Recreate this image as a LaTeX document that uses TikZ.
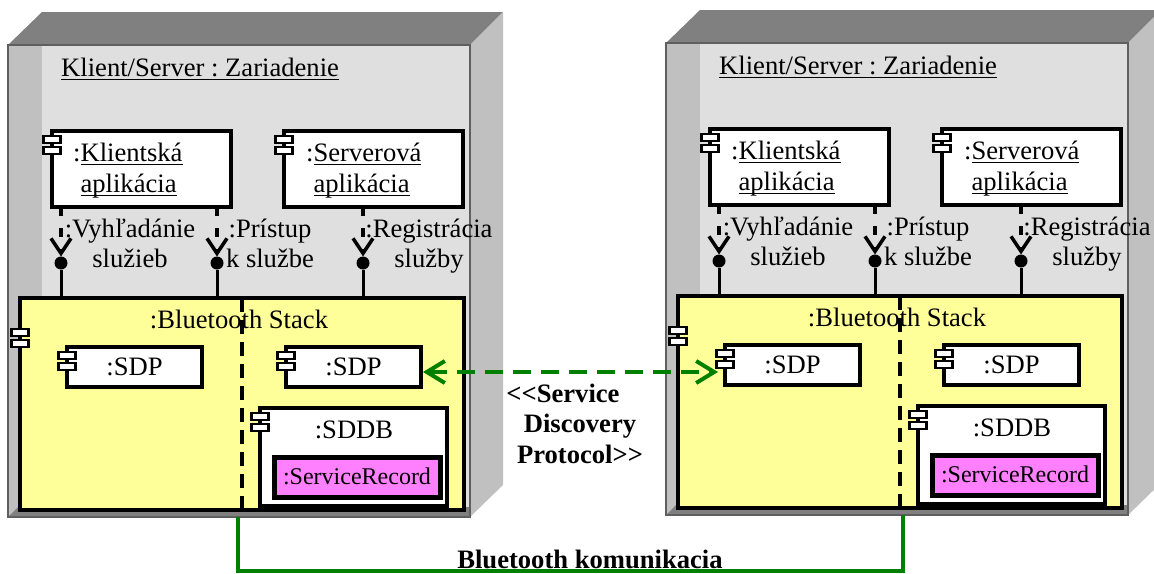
\documentclass[tikz,border=0pt]{standalone}
\usepackage{fontspec}
\setmainfont{Liberation Serif}
\frenchspacing
\newsavebox{\myulbox}
\newcommand{\myul}[1]{\sbox{\myulbox}{#1}\rlap{\rule[-4.2pt]{\wd\myulbox}{1.6pt}}\usebox{\myulbox}}
\usetikzlibrary{arrows.meta}
\definecolor{devtop}{HTML}{808080}
\definecolor{devside}{HTML}{C0C0C0}
\definecolor{devfront}{HTML}{DFDFDF}
\definecolor{devborder}{HTML}{5F5F5F}
\definecolor{stackfill}{HTML}{FFFF99}
\definecolor{srfill}{HTML}{FF80FF}
\definecolor{linkgreen}{HTML}{008000}
\tikzset{
  every node/.style={font=\fontsize{26.6}{31}\selectfont, inner sep=0pt},
  devbox/.style={draw=devborder, line width=2.5pt, outer sep=0pt},
  comp/.style={draw=black, fill=white, line width=3.5pt, outer sep=0pt},
  stackbox/.style={draw=black, fill=stackfill, line width=4pt, outer sep=0pt},
  srbox/.style={draw=black, fill=srfill, line width=5pt, outer sep=0pt},
  iconrect/.style={draw=black, fill=white, line width=2.2pt},
  cicon/.pic={\draw[iconrect] (-8.5,1) rectangle (8.5,8) (-8.5,12) rectangle (8.5,19);},
  ballnode/.style={circle, fill=black, minimum size=13pt, outer sep=0pt},
  depline/.style={line width=3.5pt, dash pattern=on 9pt off 12pt, -{Straight Barb[length=15pt,width=20pt]}},
  assemline/.style={line width=3pt},
  divider/.style={line width=3.5pt, dash pattern=on 14pt off 8pt},
  iflabel/.style={align=center, anchor=base, font=\fontsize{26.6}{30}\selectfont},
  sdplink/.style={draw=linkgreen, line width=4pt, dash pattern=on 18pt off 10pt,
     {Straight Barb[length=18pt,width=22pt]}-{Straight Barb[length=18pt,width=22pt]}},
  btlink/.style={draw=linkgreen, line width=3.5pt},
  boldlabel/.style={font=\fontsize{26.6}{30.5}\selectfont\bfseries}
}
\newcommand\drawdevice[2]{%
\begin{scope}[shift={(#2)}]
  % 3D node faces
  \fill[devtop] (8,45) -- (42,12) -- (503,12) -- (470,45) -- cycle;
  \fill[devside] (470,45) -- (503,12) -- (503,485) -- (470,517) -- cycle;
  \fill[devfront] (8,45) rectangle (470,517);
  \fill[devside] (8,45) rectangle (42,517);
  \fill[devtop] (8,517) -- (18,507) -- (470,507) -- (470,517) -- cycle;
  \node[devbox, minimum width=462, minimum height=472] (#1-dev) at (239,281) {};
  \node[anchor=base west] (#1-title) at (61,76) {\myul{Klient/Server : Zariadenie}};
  % applications
  \node[comp, minimum width=179, minimum height=76] (#1-kl) at (141.5,169) {};
  \pic at ([yshift=-4pt]#1-kl.north west) {cicon};
  \node[anchor=base west, align=left] (#1-kltext) at (73,192) {:\myul{Klientská}\\\phantom{:}\myul{aplikácia}};
  \node[comp, minimum width=179, minimum height=76] (#1-sv) at (373.5,169) {};
  \pic at ([yshift=-4pt]#1-sv.north west) {cicon};
  \node[anchor=base west, align=left] (#1-svtext) at (306,192) {:\myul{Serverová}\\\phantom{:}\myul{aplikácia}};
  % bluetooth stack
  \node[stackbox, minimum width=444, minimum height=212] (#1-stack) at (242,404) {};
  \pic at ([yshift=-30pt]#1-stack.north west) {cicon};
  \node[anchor=base] (#1-stacktitle) at (239,328) {:Bluetooth Stack};
  \coordinate (#1-divtop) at (242,298);
  \coordinate (#1-divbot) at (242,510);
  \draw[divider] (#1-divtop) -- (#1-divbot);
  \node[comp, minimum width=135, minimum height=40] (#1-sdp1) at (134.5,367) {:SDP};
  \pic at ([yshift=-4pt]#1-sdp1.north west) {cicon};
  \node[comp, minimum width=135, minimum height=40] (#1-sdp2) at (353.5,367) {:SDP};
  \pic at ([yshift=-4pt]#1-sdp2.north west) {cicon};
  \node[comp, minimum width=187, minimum height=98] (#1-sddb) at (353.5,457) {};
  \pic at ([yshift=-4pt]#1-sddb.north west) {cicon};
  \node[anchor=base] (#1-sddbtext) at (354,438) {:SDDB};
  \node[srbox, minimum width=166, minimum height=40] (#1-sr) at (357,477) {};
  \node[anchor=base, font=\fontsize{24}{28}\selectfont] (#1-srtext) at (357,484) {:ServiceRecord};
  % interfaces
  \node[ballnode] (#1-b1) at (61,263) {};
  \node[ballnode] (#1-b2) at (217,263) {};
  \node[ballnode] (#1-b3) at (363,263) {};
  \draw[depline] (#1-kl.south -| #1-b1) -- (#1-b1.north);
  \draw[depline] (#1-kl.south -| #1-b2) -- (#1-b2.north);
  \draw[depline] (#1-sv.south -| #1-b3) -- (#1-b3.north);
  \draw[assemline] (#1-b1) -- (#1-stack.north -| #1-b1);
  \draw[assemline] (#1-b2) -- (#1-stack.north -| #1-b2);
  \draw[assemline] (#1-b3) -- (#1-stack.north -| #1-b3);
  \node[iflabel] (#1-if1) at (130,267) {:Vyhľadánie\\služieb};
  \node[iflabel] (#1-if2) at (270,267) {:Prístup\\k službe};
  \node[iflabel] (#1-if3) at (429,267) {:Registrácia\\služby};
\end{scope}}
\begin{document}
\begin{tikzpicture}[x=1pt,y=-1pt]
  \useasboundingbox (0,0) rectangle (1154,573);
  \drawdevice{L}{0,0}
  \drawdevice{R}{658,-2}
  % service discovery protocol
  \draw[sdplink, shorten <=2pt, shorten >=7pt] ([yshift=-5pt]L-sdp2.east) -- ([yshift=-5pt]L-sdp2.east -| R-sdp1.west);
  \node[boldlabel, align=center, anchor=base] (proto) at (580,463) {<{}<Service\hspace*{34pt}\\Discovery\\Protocol>{}>};
  % bluetooth link
  \coordinate (L-bt) at (238,517);
  \coordinate (R-bt) at (903,515);
  \draw[btlink] (L-bt) -- ++(0,54) -| (R-bt);
  \node[boldlabel, anchor=base] (btlabel) at (590,568) {Bluetooth komunikacia};
\end{tikzpicture}
\end{document}
